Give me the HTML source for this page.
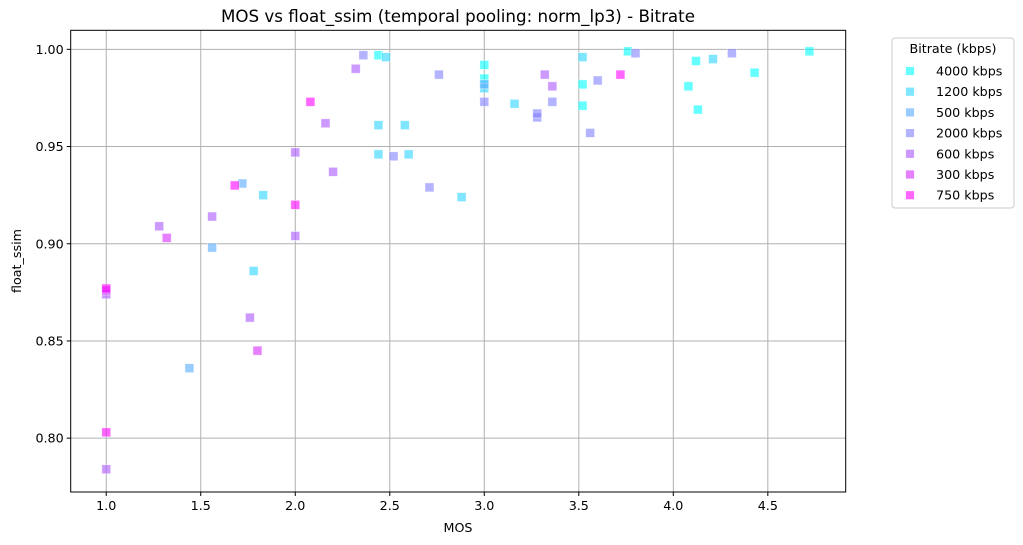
<!DOCTYPE html>
<html><head><meta charset="utf-8"><style>
body{margin:0;background:#fff;}
svg{display:block;font-family:"DejaVu Sans","Liberation Sans",sans-serif;}
</style></head><body>
<svg id="chart" width="1023" height="545" xmlns="http://www.w3.org/2000/svg">
<rect width="1023" height="545" fill="#fff"/>
<g id="grid"></g>
<g id="points"></g>
<rect x="70.7" y="30.3" width="775" height="461.7" fill="none" stroke="#000" stroke-width="1"/>
<g id="ticks"></g>
<text x="458" y="22" font-size="16.7" text-anchor="middle">MOS vs float_ssim (temporal pooling: norm_lp3) - Bitrate</text>
<text x="458" y="532" font-size="12.7" text-anchor="middle">MOS</text>
<text transform="translate(21,261) rotate(-90)" font-size="12.7" text-anchor="middle">float_ssim</text>
<g id="legend">
<rect x="892" y="38" width="122" height="170" rx="3" fill="#fff" stroke="#ccc"/>
<text x="953" y="53" font-size="12.7" text-anchor="middle">Bitrate (kbps)</text>
</g>
</svg>
<script>
const series = ["4000 kbps","1200 kbps","500 kbps","2000 kbps","600 kbps","300 kbps","750 kbps"];
const colors = ["rgb(0,255,255)","rgb(43,213,255)","rgb(85,170,255)","rgb(128,128,255)","rgb(170,85,255)","rgb(213,43,255)","rgb(255,0,255)"];
const mosValues = [
 [2.44,3.0,3.0,3.52,3.52,3.76,4.08,4.12,4.13,4.43,4.72],
 [1.78,1.83,2.48,2.44,2.58,2.44,2.60,2.88,3.0,3.16,3.52,4.21],
 [1.56,1.44,1.72,3.0],
 [2.36,2.52,2.71,2.76,3.0,3.28,3.28,3.36,3.56,3.60,3.80,4.31],
 [1.0,1.0,1.28,1.56,1.76,2.0,2.0,2.16,2.2,2.32,3.32,3.36],
 [1.32,1.80,1.0],
 [1.0,1.0,1.68,2.0,2.08,3.72]
];
const ssimValues = [
 [0.997,0.992,0.985,0.982,0.971,0.999,0.981,0.994,0.969,0.988,0.999],
 [0.886,0.925,0.996,0.961,0.961,0.946,0.946,0.924,0.980,0.972,0.996,0.995],
 [0.898,0.836,0.931,0.982],
 [0.997,0.945,0.929,0.987,0.973,0.965,0.967,0.973,0.957,0.984,0.998,0.998],
 [0.874,0.784,0.909,0.914,0.862,0.947,0.904,0.962,0.937,0.990,0.987,0.981],
 [0.903,0.845,0.876],
 [0.877,0.803,0.930,0.920,0.973,0.987]
];
const xTicks = [1.0,1.5,2.0,2.5,3.0,3.5,4.0,4.5];
const yTicks = [0.80,0.85,0.90,0.95,1.00];
const NS="http://www.w3.org/2000/svg";
const L=70.7,R=845.7,T=30.3,B=492;
const xMin=0.812,xMax=4.912,yMin=0.7723,yMax=1.0098;
function sx(v){return L+(v-xMin)/(xMax-xMin)*(R-L);}
function sy(v){return B-(v-yMin)/(yMax-yMin)*(B-T);}
function mk(tag,attrs,parent){const e=document.createElementNS(NS,tag);for(const k in attrs)e.setAttribute(k,attrs[k]);parent.appendChild(e);return e;}
const grid=document.getElementById('grid'),ticks=document.getElementById('ticks'),pts=document.getElementById('points'),leg=document.getElementById('legend');
xTicks.forEach(v=>{
 const x=sx(v);
 const g=mk('line',{x1:x,x2:x,y1:T,y2:B,stroke:'#b0b0b0','stroke-width':1},grid);
 
 
 const t=mk('line',{x1:x,x2:x,y1:B,y2:B+4,stroke:'#000'},ticks);
 
 
 const l=mk('text',{x:x,y:B+18,'font-size':12.7,'text-anchor':'middle'},ticks);
 l.textContent=v.toFixed(1);
 
 
});
yTicks.forEach(v=>{
 const y=sy(v);
 const g=mk('line',{x1:L,x2:R,y1:y,y2:y,stroke:'#b0b0b0','stroke-width':1},grid);
 
 
 const t=mk('line',{x1:L-4,x2:L,y1:y,y2:y,stroke:'#000'},ticks);
 
 
 const l=mk('text',{x:L-7,y:y+4.5,'font-size':12.7,'text-anchor':'end'},ticks);
 l.textContent=v.toFixed(2);
 
 
});
series.forEach((s,i)=>{
 mosValues[i].forEach((m,j)=>{
  const r=mk('rect',{x:sx(m)-4.5,y:sy(ssimValues[i][j])-4.5,width:9,height:9,fill:colors[i],'fill-opacity':0.6,stroke:'#fff','stroke-opacity':0.6,'stroke-width':0.8},pts);
  
  
 });
 const y=71+i*20.7;
 const lm=mk('rect',{x:905.5,y:y-4.5,width:9,height:9,fill:colors[i],'fill-opacity':0.6,stroke:'#fff','stroke-width':0.8},leg);
 
 
 const lt=mk('text',{x:936,y:y+4.5,'font-size':12.7},leg);
 lt.textContent=s;
 
 
});
</script>
</body></html>
